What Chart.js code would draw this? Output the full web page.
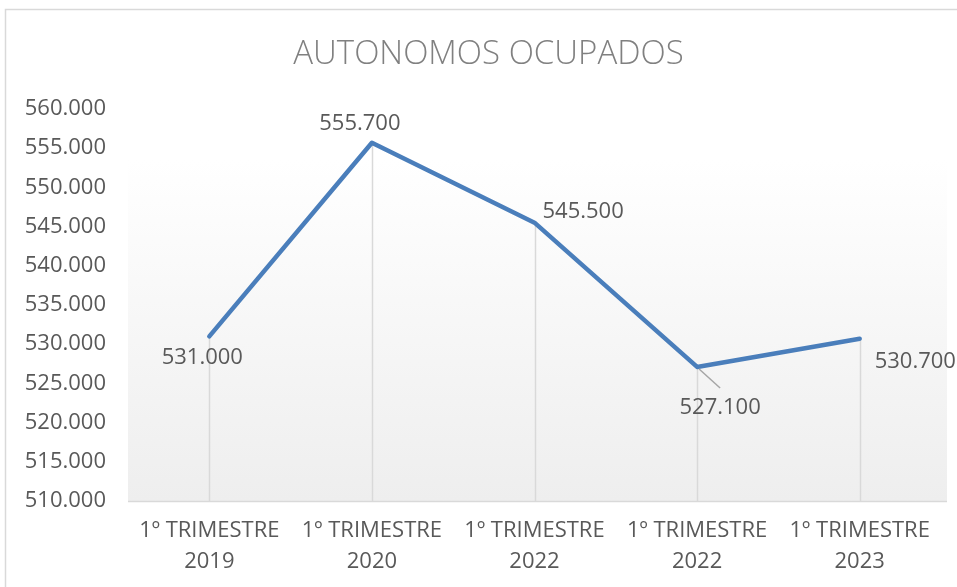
<!DOCTYPE html>
<html><head><meta charset="utf-8">
<script src="https://cdn.jsdelivr.net/npm/chart.js@4/dist/chart.umd.min.js"></script>
<style>html,body{margin:0;padding:0;background:#fff;}#wrap{width:957px;height:587px;position:relative;}</style>
</head><body><div id="wrap"><canvas id="c" width="957" height="587"></canvas></div>
<script>
const categories = [["1º TRIMESTRE","2019"],["1º TRIMESTRE","2020"],["1º TRIMESTRE","2022"],["1º TRIMESTRE","2022"],["1º TRIMESTRE","2023"]];
const values = [531000, 555700, 545500, 527100, 530700];
const valueLabels = ["531.000","555.700","545.500","527.100","530.700"];
const yMin = 510000, yMax = 560000, yStep = 5000;
const title = "AUTONOMOS OCUPADOS";

// label placement (style): offset from point, alignment
const labelPlacement = [
  {dx:-7, dy:21, align:'center'},
  {dx:-12, dy:-19, align:'center'},
  {dx:8, dy:-11, align:'left'},
  {dx:23, dy:41, align:'center', leader:true},
  {dx:15, dy:23, align:'left'}
];
const FONT = "'Open Sans', 'Lato', sans-serif";
const fmt = v => Math.round(v/1000) + '.000';

const bgPlugin = {
  id:'bg',
  beforeDraw(chart){
    const {ctx, chartArea:a} = chart;
    ctx.save();
    ctx.fillStyle='#fff'; ctx.fillRect(0,0,chart.width,chart.height);
    const top = a.top + (a.bottom-a.top)*0.13;
    const g = ctx.createLinearGradient(0, top, 0, a.bottom);
    g.addColorStop(0,'#ffffff'); g.addColorStop(1,'#eeeeee');
    ctx.fillStyle=g; ctx.fillRect(a.left, top, a.right - a.left + 6, a.bottom-top);
    ctx.strokeStyle='#d9d9d9'; ctx.lineWidth=1.5;
    ctx.strokeRect(5.5, 9.5, chart.width+10, chart.height+10);
    // title
    ctx.fillStyle='#808080';
    ctx.font = "300 33px " + FONT;
    ctx.textAlign='center'; ctx.textBaseline='middle';
    ctx.fillText(title, chart.width/2 + 10, 55);
    ctx.restore();
  },
  beforeDatasetsDraw(chart){
    const {ctx, chartArea:a} = chart;
    const meta = chart.getDatasetMeta(0);
    ctx.save();
    ctx.strokeStyle='#d9d9d9'; ctx.lineWidth=1.5;
    meta.data.forEach(p=>{ ctx.beginPath(); ctx.moveTo(Math.round(p.x)+0.5, p.y); ctx.lineTo(Math.round(p.x)+0.5, a.bottom); ctx.stroke(); });
    ctx.beginPath(); ctx.moveTo(a.left, a.bottom+0.5); ctx.lineTo(a.right+6, a.bottom+0.5); ctx.stroke();
    ctx.restore();
  },
  afterDatasetsDraw(chart){
    const {ctx} = chart;
    const meta = chart.getDatasetMeta(0);
    ctx.save();
    ctx.font = "22px " + FONT;
    ctx.fillStyle = '#595959';
    ctx.textBaseline='middle';
    meta.data.forEach((p,i)=>{
      const pl = labelPlacement[i];
      if (pl.leader){
        ctx.strokeStyle='#a6a6a6'; ctx.lineWidth=1.5;
        ctx.beginPath(); ctx.moveTo(p.x+2, p.y+2); ctx.lineTo(p.x+pl.dx, p.y+pl.dy-20); ctx.stroke();
      }
      ctx.textAlign = pl.align;
      ctx.fillText(valueLabels[i], p.x+pl.dx, p.y+pl.dy);
    });
    ctx.restore();
  }
};

new Chart(document.getElementById('c'), {
  type:'line',
  data:{ labels:categories, datasets:[{ data:values, borderColor:'#4a7ebb', borderWidth:4.5, pointRadius:0, pointHoverRadius:0, tension:0, borderJoinStyle:'round', borderCapStyle:'round', fill:false }]},
  options:{
    responsive:false, animation:false,
    layout:{ padding:{ left:0, right:16, top:109, bottom:0 } },
    plugins:{ legend:{display:false}, tooltip:{enabled:false}, title:{display:false} },
    scales:{
      x:{ offset:true, grid:{display:false, drawTicks:false}, border:{display:false},
          ticks:{ color:'#595959', font:{family:FONT, size:22, lineHeight:1.42}, padding:14, maxRotation:0, autoSkip:false },
          afterFit(s){ s.height = 86; } },
      y:{ min:yMin, max:yMax, grid:{display:false, drawTicks:false}, border:{display:false},
          ticks:{ stepSize:yStep, color:'#595959', font:{family:FONT, size:22}, padding:22, callback:v=>fmt(v) },
          afterFit(s){ s.width = 128; } }
    }
  },
  plugins:[bgPlugin]
});
</script></body></html>
